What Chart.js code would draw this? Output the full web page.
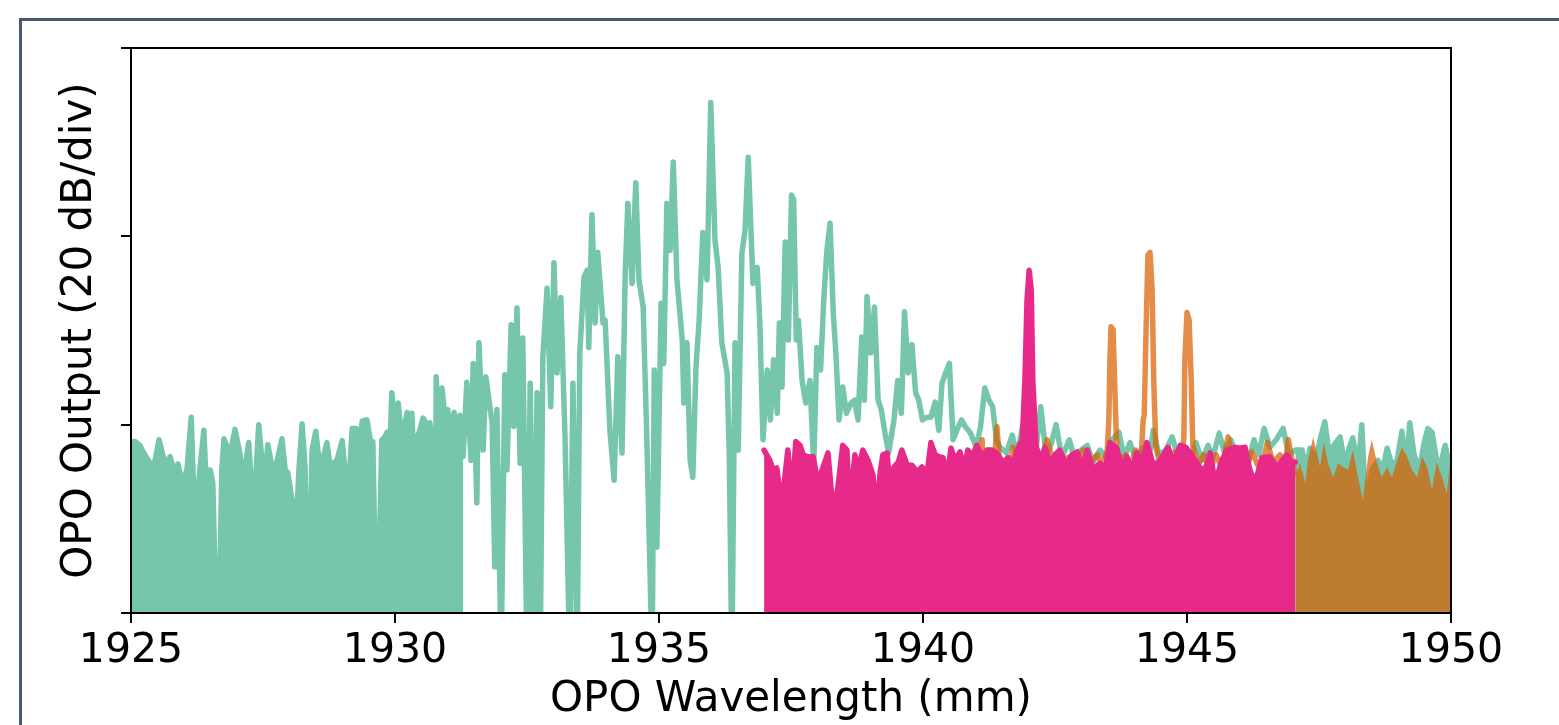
<!DOCTYPE html>
<html>
<head>
<meta charset="utf-8">
<script src="https://cdn.jsdelivr.net/npm/chart.js@4.4.1/dist/chart.umd.min.js"></script>
<style>
  html, body { margin: 0; padding: 0; background: #fff; }
  #wrap { position: relative; width: 1559px; height: 725px; overflow: hidden; }
  #frame { position: absolute; left: 19px; top: 18px; width: 2000px; height: 2000px;
           border-left: 3px solid #4a5875; border-top: 3px solid #4a5875; }
  canvas { position: absolute; left: 0; top: 0; }
</style>
</head>
<body>
<div id="wrap">
  <div id="frame"></div>
  <canvas id="chart" width="1559" height="725"></canvas>
</div>
<script>
// axis ticks
const xTicks = [1925, 1930, 1935, 1940, 1945, 1950]
const yTicks = [0, 20, 40, 60]   // 20 dB per division, no labels

// green trace, noise floor part (nm / dB)
const greenFloorNm = [1925.00,1925.08,1925.17,1925.23,1925.36,1925.45,1925.53,1925.61,1925.68,1925.74,
  1925.81,1925.89,1925.97,1926.06,1926.14,1926.21,1926.29,1926.38,1926.44,1926.50,1926.55,1926.63,1926.69,
  1926.72,1926.76,1926.84,1926.91,1926.97,1927.06,1927.12,1927.18,1927.23,1927.31,1927.37,1927.42,1927.48,
  1927.54,1927.59,1927.69,1927.77,1927.86,1927.92,1927.97,1928.05,1928.11,1928.18,1928.24,1928.30,1928.35,
  1928.43,1928.50,1928.56,1928.62,1928.71,1928.77,1928.83,1928.90,1929.00,1929.05,1929.09,1929.19,1929.26,
  1929.32,1929.38,1929.47,1929.53,1929.58,1929.66,1929.75,1929.81,1929.85,1929.91,1929.94,1930.00,1930.06,
  1930.13,1930.23,1930.27,1930.32,1930.38,1930.42,1930.47,1930.53,1930.61,1930.66,1930.72,1930.76,1930.78,
  1930.83,1930.89,1930.95,1931.00,1931.04,1931.08,1931.12,1931.17,1931.23,1931.29]
const greenFloorDb = [18.2,18.2,17.8,17.1,15.9,16.0,18.4,16.6,15.7,16.6,
  15.2,15.8,13.8,15.2,20.8,9.0,14.4,19.4,11.8,15.2,13.8,-5,5.9,
  15.2,18.5,17.3,17.8,19.5,17.0,14.3,16.2,18.1,10.6,15.2,20.0,16.2,
  14.1,17.9,15.0,16.2,18.5,15.2,14.9,12.0,6.7,15.2,20.1,15.2,-5,
  17.3,19.3,16.2,16.0,18.1,15.7,15.9,16.2,18.3,15.2,10.4,19.6,19.6,
  17.8,20.4,20.5,18.4,18.2,-5,18.4,18.7,19.2,18.4,23.4,19.4,22.3,
  18.4,21.3,16.2,21.2,12.0,18.7,19.4,20.7,20.0,20.2,17.3,-5,25.1,
  18.4,23.9,20.5,21.6,-5,20.5,21.3,18.4,21.0,16.6]

// green trace, main spectrum
const greenPeakNm = [1931.36,1931.44,1931.48,1931.55,1931.59,1931.67,1931.72,1931.84,1931.89,1931.93,
  1932.01,1932.08,1932.12,1932.20,1932.25,1932.31,1932.37,1932.42,1932.50,1932.56,1932.63,1932.69,1932.75,
  1932.80,1932.88,1932.95,1933.01,1933.07,1933.14,1933.22,1933.31,1933.37,1933.45,1933.50,1933.58,1933.64,
  1933.67,1933.73,1933.79,1933.84,1933.94,1933.98,1934.07,1934.15,1934.22,1934.30,1934.36,1934.41,1934.49,
  1934.56,1934.62,1934.70,1934.77,1934.87,1934.91,1934.96,1935.04,1935.09,1935.15,1935.21,1935.27,1935.34,
  1935.44,1935.47,1935.53,1935.59,1935.64,1935.70,1935.76,1935.83,1935.91,1935.98,1936.06,1936.12,1936.19,
  1936.29,1936.33,1936.38,1936.44,1936.50,1936.57,1936.63,1936.69,1936.78,1936.86,1936.91,1936.97,1937.05,
  1937.11,1937.17,1937.24,1937.28,1937.33,1937.39,1937.45,1937.51,1937.55,1937.60,1937.64,1937.71,1937.78,
  1937.86,1937.93,1937.99,1938.06,1938.12,1938.18,1938.24,1938.30,1938.35,1938.41,1938.48,1938.55,1938.64,
  1938.70,1938.77,1938.84,1938.89,1938.94,1939.01,1939.08,1939.15,1939.21,1939.28,1939.35,1939.45,1939.52,
  1939.59,1939.65,1939.72,1939.79,1939.86,1939.92,1939.99,1940.08,1940.15,1940.23,1940.30,1940.36,1940.43,
  1940.50,1940.57,1940.67,1940.73,1940.80,1940.90,1941.01,1941.09,1941.17,1941.25,1941.32,1941.39,1941.46]
const greenPeakDb = [24.5,16.2,26.5,11.7,28.7,17.3,25.1,20.2,4.9,21.6,
  -5,25.3,15.2,30.6,19.8,32.4,15.9,29.2,-5,24.4,-5,23.4,-5,
  27.1,34.5,21.9,37.2,25.5,33.5,18.7,-5,24.4,-5,27.6,35.7,36.4,
  28.2,42.3,30.8,38.3,30.8,31.1,19.4,14.1,27.2,17.0,36.1,43.5,35.0,
  45.7,35.4,32.5,18.4,-5,25.8,7.0,32.9,26.5,43.5,38.5,47.9,35.4,
  29.0,22.3,28.7,16.2,14.4,26.1,31.1,40.4,35.4,54.2,39.6,36.7,28.7,
  25.5,17.0,-5,28.7,17.3,38.2,40.7,48.4,35.0,36.7,30.8,18.4,25.8,
  20.5,26.9,21.2,30.8,24.0,39.4,29.0,44.4,43.9,29.0,31.1,24.7,22.3,
  24.7,15.5,28.2,25.8,33.2,38.5,41.4,31.9,27.6,20.5,24.0,21.2,22.3,
  22.6,20.5,29.3,22.6,33.6,27.6,32.5,22.6,21.6,19.1,17.0,20.5,24.7,
  21.2,32.0,25.5,28.5,23.4,22.6,20.5,20.8,20.8,22.4,19.4,24.4,25.5,
  26.5,18.4,19.8,20.5,19.8,19.1,17.6,19.8,23.9,22.6,21.9,18.4,17.6]

// green trace, long-wavelength tail
const greenTailNm = [1941.58,1941.69,1941.78,1941.89,1942.03,1942.14,1942.23,1942.33,1942.42,1942.52,
  1942.63,1942.77,1942.88,1942.99,1943.11,1943.22,1943.35,1943.47,1943.58,1943.71,1943.81,1943.92,1944.03,
  1944.15,1944.27,1944.36,1944.47,1944.60,1944.72,1944.83,1944.94,1945.06,1945.17,1945.28,1945.40,1945.49,
  1945.61,1945.72,1945.83,1945.95,1946.06,1946.17,1946.27,1946.36,1946.46,1946.57,1946.69,1946.82,1946.93,
  1947.05,1947.18,1947.25,1947.33,1947.44,1947.52,1947.61,1947.71,1947.78,1947.90,1947.99,1948.07,1948.14,
  1948.24,1948.31,1948.39,1948.50,1948.62,1948.71,1948.79,1948.88,1948.98,1949.07,1949.15,1949.22,1949.30,
  1949.41,1949.48,1949.56,1949.64,1949.73,1949.80,1949.89,1949.98]
const greenTailDb = [17.0,18.9,16.6,20.0,21.3,17.3,21.9,16.8,17.8,20.0,
  16.5,18.4,16.2,17.3,17.8,16.0,17.3,16.5,18.4,19.2,16.5,18.1,16.2,
  17.5,16.0,19.4,16.8,17.3,18.7,16.5,17.5,16.2,18.1,16.2,17.8,16.5,
  19.1,16.8,18.4,16.5,17.5,16.2,18.4,16.8,19.6,17.6,18.4,19.6,16.8,
  17.3,17.3,15.2,17.5,16.2,18.4,20.3,16.2,17.8,18.7,15.7,17.5,18.6,
  15.2,20.0,10.6,15.2,16.2,15.2,17.5,15.7,16.2,19.3,15.2,20.2,16.8,
  15.2,17.8,19.6,19.2,16.2,15.7,17.8,15.2]

// pink trace
const pinkNm = [1936.99,1937.10,1937.16,1937.23,1937.29,1937.35,1937.44,1937.52,1937.59,1937.67,
  1937.73,1937.82,1937.92,1938.01,1938.09,1938.20,1938.30,1938.39,1938.48,1938.56,1938.61,1938.71,1938.77,
  1938.86,1938.96,1939.05,1939.13,1939.19,1939.24,1939.32,1939.38,1939.45,1939.53,1939.60,1939.70,1939.79,
  1939.89,1939.98,1940.08,1940.15,1940.23,1940.30,1940.38,1940.45,1940.53,1940.61,1940.70,1940.78,1940.85,
  1940.93,1941.02,1941.12,1941.21,1941.31,1941.40,1941.52,1941.61,1941.70,1941.80,1941.88,1941.93,1941.97,
  1942.01,1942.05,1942.08,1942.14,1942.22,1942.31,1942.41,1942.50,1942.59,1942.71,1942.82,1942.92,1943.01,
  1943.11,1943.22,1943.35,1943.45,1943.54,1943.67,1943.77,1943.86,1943.96,1944.05,1944.15,1944.24,1944.36,
  1944.49,1944.64,1944.75,1944.87,1944.98,1945.11,1945.25,1945.34,1945.44,1945.53,1945.66,1945.76,1945.91,
  1946.00,1946.10,1946.19,1946.29,1946.42,1946.57,1946.70,1946.80,1946.89,1946.99,1947.05]
const pinkDb = [17.3,16.2,15.2,15.4,12.8,12.7,17.3,12.3,18.2,17.8,
  16.8,16.6,16.6,13.8,15.2,17.0,10.6,13.4,17.8,17.3,10.9,16.8,15.2,
  17.3,16.2,14.7,10.6,15.0,16.8,17.0,12.7,15.5,16.0,17.3,15.7,15.7,
  15.0,15.5,14.9,18.1,16.8,16.6,16.5,14.1,17.5,16.2,17.1,15.4,17.3,
  16.6,17.8,16.6,17.3,17.3,17.0,15.9,16.5,15.9,17.5,18.4,24.7,33.2,
  36.4,34.3,24.7,17.8,16.2,17.6,15.9,16.8,17.3,15.7,16.8,17.1,15.4,
  17.3,15.2,15.9,15.2,18.1,17.5,15.4,16.6,15.2,17.0,16.0,18.1,15.7,
  16.2,17.6,16.0,17.8,17.6,16.6,15.4,15.2,17.0,13.8,16.2,17.3,17.6,
  17.5,17.6,15.2,13.8,16.5,16.6,15.5,16.2,16.8,16.0,16.0]

// orange trace
const orangeNm = [1941.08,1941.12,1941.17,1941.27,1941.34,1941.40,1941.46,1941.55,1941.65,1941.70,
  1941.80,1941.91,1942.05,1942.20,1942.35,1942.50,1942.63,1942.78,1942.92,1943.03,1943.14,1943.30,1943.41,
  1943.49,1943.52,1943.54,1943.56,1943.60,1943.64,1943.67,1943.75,1943.84,1943.94,1944.03,1944.13,1944.17,
  1944.19,1944.22,1944.26,1944.30,1944.34,1944.37,1944.41,1944.49,1944.58,1944.68,1944.77,1944.87,1944.94,
  1944.96,1945.00,1945.04,1945.08,1945.11,1945.21,1945.32,1945.44,1945.55,1945.66,1945.78,1945.89,1946.00,
  1946.12,1946.23,1946.34,1946.46,1946.52,1946.63,1946.76,1946.86,1946.92,1946.99,1947.05,1947.08,1947.14,
  1947.24,1947.29,1947.39,1947.46,1947.52,1947.59,1947.67,1947.77,1947.86,1947.95,1948.05,1948.14,1948.24,
  1948.33,1948.43,1948.50,1948.60,1948.69,1948.79,1948.88,1948.98,1949.07,1949.17,1949.26,1949.36,1949.45,
  1949.55,1949.64,1949.73,1949.83,1949.92,1950.00]
const orangeDb = [-5,18.4,9.9,16.2,15.2,19.8,15.2,16.2,14.7,17.6,
  15.2,15.7,17.0,15.2,18.4,15.4,16.2,16.6,15.2,17.3,15.7,16.8,15.7,
  17.3,20.5,26.9,30.4,30.1,22.6,17.3,16.0,16.8,15.7,17.3,16.2,20.5,
  21.0,29.0,38.0,38.3,34.3,24.7,17.6,15.9,16.8,15.7,17.1,16.2,18.4,
  26.9,31.9,31.1,24.7,17.8,15.7,16.8,15.2,16.8,15.4,18.7,16.0,16.8,
  15.4,17.1,15.7,16.5,18.1,16.0,16.8,15.7,18.4,16.2,14.8,14.8,15.9,
  13.8,16.2,18.7,17.0,15.5,18.1,15.9,14.4,15.9,15.5,15.2,17.3,14.4,
  12.0,16.6,18.4,15.9,14.4,15.5,14.4,16.2,17.6,16.6,15.2,14.4,16.6,
  15.5,13.1,16.0,14.4,12.7,17.0]

function pts(nm, db) {
  return nm.map((x, i) => ({x: x, y: db[i]}))
}

const green = pts(greenFloorNm.concat(greenPeakNm, greenTailNm), greenFloorDb.concat(greenPeakDb, greenTailDb))
const orange = pts(orangeNm, orangeDb)
const edge = 1947.05   // where the orange trace turns into a dense floor

const GREEN = '#76c5ad'
const PINK = '#e7298a'
const ORANGE = 'rgba(217,95,2,0.72)'
const NONE = 'rgba(0,0,0,0)'

// frame around the plot area
const boxPlugin = {
  id: 'box',
  afterDatasetsDraw(chart) {
    const {ctx, chartArea: a} = chart
    ctx.save()
    ctx.strokeStyle = '#000'
    ctx.lineWidth = 2
    ctx.strokeRect(a.left, a.top, a.right - a.left, a.bottom - a.top)
    ctx.restore()
  }
}

Chart.defaults.font.family = 'DejaVu Sans'
Chart.defaults.color = '#000'

const lineBase = {pointRadius: 0, tension: 0, borderWidth: 5.5, borderJoinStyle: 'round', borderCapStyle: 'round', clip: 0}

// first dataset is drawn on top
const datasets = [
  Object.assign({}, lineBase, {label: 'pink', data: pts(pinkNm, pinkDb), borderColor: PINK, backgroundColor: PINK, fill: 'start'}),
  Object.assign({}, lineBase, {label: 'orange', data: orange.filter(p => p.x <= edge), borderColor: ORANGE, fill: false}),
  Object.assign({}, lineBase, {label: 'orange floor', data: orange.filter(p => p.x >= edge), borderColor: NONE, borderWidth: 0, backgroundColor: ORANGE, fill: 'start'}),
  Object.assign({}, lineBase, {label: 'green', data: green, borderColor: GREEN, fill: false}),
  Object.assign({}, lineBase, {label: 'green floor', data: pts(greenFloorNm, greenFloorDb), borderColor: NONE, borderWidth: 0, backgroundColor: GREEN, fill: 'start'}),
  Object.assign({}, lineBase, {label: 'green floor 2', data: green.filter(p => p.x >= edge), borderColor: NONE, borderWidth: 0, backgroundColor: GREEN, fill: 'start'})
]

const tickGrid = {drawOnChartArea: false, drawTicks: true, tickLength: 10, color: '#000', lineWidth: 2}

new Chart(document.getElementById('chart').getContext('2d'), {
  type: 'line',
  data: {datasets: datasets},
  options: {
    responsive: false,
    animation: false,
    layout: {padding: {top: 48, right: 108, left: 0, bottom: 0}},
    plugins: {legend: {display: false}, tooltip: {enabled: false}},
    scales: {
      x: {
        type: 'linear', min: 1925, max: 1950,
        afterBuildTicks: s => { s.ticks = xTicks.map(v => ({value: v})) },
        ticks: {callback: v => String(v), font: {size: 41}, padding: 4, maxRotation: 0, autoSkip: false},
        grid: tickGrid,
        border: {display: false},
        title: {display: true, text: 'OPO Wavelength (mm)', font: {size: 42}, padding: {top: 0, bottom: 0}},
        afterFit: s => { s.height = 112; s.paddingLeft = 0; s.paddingRight = 0 }
      },
      y: {
        type: 'linear', min: 0, max: 60,
        afterBuildTicks: s => { s.ticks = yTicks.map(v => ({value: v})) },
        ticks: {display: false},
        grid: tickGrid,
        border: {display: false},
        title: {display: true, text: 'OPO Output (20 dB/div)', font: {size: 42}, padding: {top: 55, bottom: 0}},
        afterFit: s => { s.width = 131; s.paddingTop = 0; s.paddingBottom = 0 }
      }
    }
  },
  plugins: [boxPlugin]
})
</script>
</body>
</html>
